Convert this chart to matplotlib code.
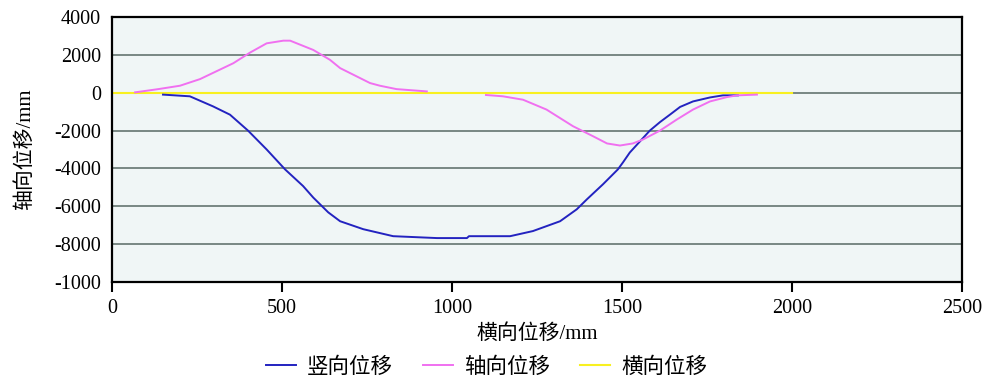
import numpy as np
import matplotlib
matplotlib.use('Agg')
import matplotlib.pyplot as plt
from matplotlib.ticker import FixedLocator, FixedFormatter

plt.rcParams['font.family'] = ['Liberation Serif', 'Noto Sans CJK SC']

# 竖向位移 (blue)
vert_x = [150, 229, 297, 347, 400, 455, 509, 562, 592, 636, 671, 739, 827,
          956, 1044, 1050, 1171, 1238, 1318, 1367, 1397, 1444, 1488, 1503, 1523,
          1582, 1612, 1641, 1671, 1709, 1759, 1797, 1841]
vert_y = [-100, -190, -720, -1160, -2000, -3000, -4050, -4930, -5540, -6320,
          -6790, -7210, -7580, -7680, -7680, -7580, -7580, -7310, -6790, -6160,
          -5630, -4840, -4050, -3680, -3160, -2000, -1550, -1160, -750, -460, -250,
          -140, -140]

# 轴向位移 (pink), NaN marks the gap between the two segments
axial_x = [68, 136, 200, 259, 357, 406, 455, 504, 524, 592, 641, 671, 759, 788,
           837, 926, np.nan,
           1100, 1150, 1209, 1278, 1356, 1415, 1456, 1494, 1532, 1562, 1612,
           1661, 1709, 1759, 1809, 1838, 1897]
axial_y = [20, 190, 370, 720, 1560, 2120, 2610, 2750, 2750, 2260, 1740, 1300, 510,
           370, 190, 70, np.nan,
           -120, -190, -370, -890, -1770, -2300, -2680, -2790, -2680, -2470,
           -2000, -1420, -890, -460, -230, -140, -100]

# 横向位移 (yellow)
lat_x = [0, 2000]
lat_y = [0, 0]

y_ticks = [4000, 2000, 0, -2000, -4000, -6000, -8000, -10000]
y_tick_labels = ['4000', '2000', '0', '-2000', '-4000', '-6000', '-8000', '-1000']
x_ticks = [0, 500, 1000, 1500, 2000, 2500]

fig = plt.figure(figsize=(9.85, 3.78), dpi=100)
ax = fig.add_axes([0.1137, 0.254, 0.8629, 0.701])
ax.set_facecolor('#f0f6f6')

# 网格线
for yv in [2000, 0, -2000, -4000, -6000, -8000]:
    ax.axhline(yv, color='#6f7f7a', lw=1.3, zorder=1)

ax.plot(vert_x, vert_y, color='#2323c0', lw=1.4, label='竖向位移', zorder=3)
ax.plot(axial_x, axial_y, color='#f070f0', lw=1.4, label='轴向位移', zorder=3)
ax.plot(lat_x, lat_y, color='#f8f020', lw=1.5, label='横向位移', zorder=2)

ax.set_xlim(0, 2500)
ax.set_ylim(-10000, 4000)
ax.xaxis.set_major_locator(FixedLocator(x_ticks))
ax.yaxis.set_major_locator(FixedLocator(y_ticks))
ax.yaxis.set_major_formatter(FixedFormatter(y_tick_labels))
ax.tick_params(axis='x', direction='out', length=7, width=1.5, labelsize=14.5, pad=5)
ax.tick_params(axis='y', length=0, labelsize=14.5, pad=8)
for s in ax.spines.values():
    s.set_linewidth(1.6)
    s.set_color('black')

ax.set_xlabel('横向位移/mm', fontsize=15, labelpad=5)
ax.set_ylabel('轴向位移/mm', fontsize=15, labelpad=14)

fig.legend(loc='center', bbox_to_anchor=(0.494, 0.027), ncol=3, frameon=False,
           fontsize=15.5, handlelength=1.4, handletextpad=0.5, columnspacing=1.4)

fig.savefig('out.png', dpi=100)
